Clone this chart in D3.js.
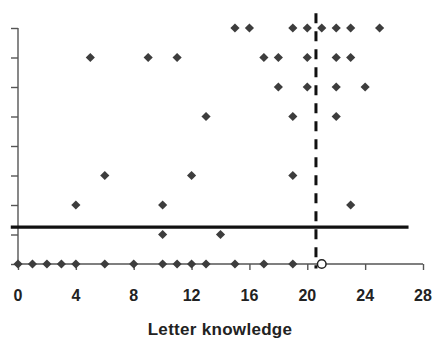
<!DOCTYPE html>
<html>
<head>
<meta charset="utf-8">
<script src="https://cdn.jsdelivr.net/npm/d3@7"></script>
<style>
  body { margin: 0; background: #fff; }
  text { font-family: "Liberation Sans", Arial, sans-serif; font-weight: bold; fill: #222; }
</style>
</head>
<body>
<div id="chart"></div>
<script>
// points (letter knowledge, score)
var letterKnowledge = [15,16,19,20,21,22,23,25,
                       5,9,11,17,18,20,22,23,
                       18,20,22,24,
                       13,19,22,
                       6,12,19,
                       4,10,23,
                       10,14,
                       0,1,2,3,4,6,8,10,11,12,13,15,17,19];
var score = [8,8,8,8,8,8,8,8,
             7,7,7,7,7,7,7,7,
             6,6,6,6,
             5,5,5,
             3,3,3,
             2,2,2,
             1,1,
             0,0,0,0,0,0,0,0,0,0,0,0,0,0];
var xTicks = [0,4,8,12,16,20,24,28];
var yTicks = [0,1,2,3,4,5,6,7,8];
var cutoffScore = 1.25;      // horizontal solid line
var cutoffLetters = 20.6;    // vertical dashed line
var openPoint = [21, 0];

var width = 434, height = 339;

var svg = d3.select("#chart").append("svg")
  .attr("width", width)
  .attr("height", height);

var x = d3.scaleLinear().domain([0, 28]).range([18, 423]);
var y = d3.scaleLinear().domain([0, 8]).range([264, 28]);

// y axis, no labels
var yAxis = svg.append("g")
  .attr("transform", "translate(" + x(0) + ",0)")
  .call(d3.axisLeft(y).tickValues(yTicks).tickSize(7).tickFormat(""));
yAxis.select(".domain").attr("d", "M0," + y(8) + "V" + y(0));

// x axis
var xAxis = svg.append("g")
  .attr("transform", "translate(0," + y(0) + ")")
  .call(d3.axisBottom(x).tickValues(xTicks).tickSize(6).tickFormat(""));
xAxis.select(".domain").attr("d", "M" + x(0) + ",0H" + x(28));

svg.selectAll(".domain, .tick line")
  .attr("stroke", "#555")
  .attr("stroke-width", 1.4);

svg.append("g").selectAll("text")
  .data(xTicks)
  .enter()
  .append("text")
    .attr("x", function(d) { return x(d); })
    .attr("y", 301)
    .attr("text-anchor", "middle")
    .style("font-size", "16px")
    .text(function(d) { return d; });

svg.append("text")
  .attr("x", 220)
  .attr("y", 335)
  .attr("text-anchor", "middle")
  .style("font-size", "17px")
  .style("letter-spacing", "0.3px")
  .text("Letter knowledge");

// reference lines
svg.append("line")
  .attr("x1", x(-0.5)).attr("x2", x(27))
  .attr("y1", y(cutoffScore)).attr("y2", y(cutoffScore))
  .attr("stroke", "#111")
  .attr("stroke-width", 3.3);

svg.append("line")
  .attr("x1", x(cutoffLetters)).attr("x2", x(cutoffLetters))
  .attr("y1", y(8.5)).attr("y2", y(-0.15))
  .attr("stroke", "#111")
  .attr("stroke-width", 3)
  .attr("stroke-dasharray", "10,8");

// points
var pts = d3.range(letterKnowledge.length);
svg.append("g").selectAll("path")
  .data(pts)
  .enter()
  .append("path")
    .attr("d", d3.symbol(d3.symbolSquare, 42))
    .attr("transform", function(i) {
      return "translate(" + x(letterKnowledge[i]) + "," + y(score[i]) + ") rotate(45)";
    })
    .attr("fill", "#3d3d3d");

svg.append("circle")
  .attr("cx", x(openPoint[0]))
  .attr("cy", y(openPoint[1]))
  .attr("r", 4.3)
  .attr("fill", "#fff")
  .attr("stroke", "#222")
  .attr("stroke-width", 1.5);
</script>
</body>
</html>
